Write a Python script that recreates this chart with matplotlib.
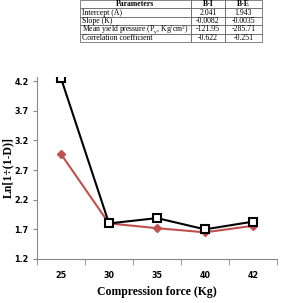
import numpy as np
import matplotlib.pyplot as plt

plt.rcParams["mathtext.fontset"] = "custom"
plt.rcParams["mathtext.rm"] = "Liberation Serif"
plt.rcParams["mathtext.it"] = "Liberation Serif:italic"

# ── Data ──
forces = ["25", "30", "35", "40", "42"]
b_i = [2.97, 1.80, 1.72, 1.65, 1.76]
b_e = [4.25, 1.80, 1.89, 1.70, 1.83]

yticks = [1.2, 1.7, 2.2, 2.7, 3.2, 3.7, 4.2]

tbl_header = ["Parameters", "B-I", "B-E"]
tbl_params = ["Intercept (A)", "Slope (K)",
              r"Mean yield pressure (P$_\mathrm{y}$, Kg/cm$^\mathrm{2}$)",
              "Correlation coefficient"]
tbl_bi = ["2.041", "-0.0082", "-121.95", "-0.622"]
tbl_be = ["1.943", "-0.0035", "-285.71", "-0.251"]

serif = "Liberation Serif"

fig = plt.figure(figsize=(2.93, 3.03), dpi=100)

# ── Chart ──
ax = fig.add_axes([37 / 293, 1 - 259 / 303, 240 / 293, 182 / 303])
x = np.arange(len(forces))
ax.plot(x, b_i, "-D", color="#c0504d", mfc="#c0504d", mec="#c0504d",
        markersize=4, linewidth=1.5)
ax.plot(x, b_e, "-s", color="black", mfc="white", mec="black",
        markersize=6, markeredgewidth=1.5, linewidth=1.5)

ax.set_xlim(-0.5, len(forces) - 0.5)
ax.set_ylim(1.2, 4.27)
ax.set_yticks(yticks)
ax.set_yticklabels([f"{v:.1f}" for v in yticks], fontsize=5.8, fontweight="bold")
ax.set_xticks(x)
ax.set_xticklabels(forces, fontsize=5.8, fontweight="bold")
ax.set_xticks(np.arange(len(forces) + 1) - 0.5, minor=True)
ax.tick_params(axis="x", which="major", length=0, pad=9)
ax.tick_params(axis="x", which="minor", length=4, color="#888888")
ax.tick_params(axis="y", length=3, color="#888888", pad=3)
for s in ["top", "right"]:
    ax.spines[s].set_visible(False)
for s in ["left", "bottom"]:
    ax.spines[s].set_color("#888888")
    ax.spines[s].set_linewidth(0.8)

ax.set_xlabel("Compression force (Kg)", family=serif, fontweight="bold", fontsize=8.5)
ax.set_ylabel("Ln[1÷(1-D)]", family=serif, fontweight="bold", fontsize=8.5)
ax.yaxis.set_label_coords(-0.094, 0.5)

# ── Table ──
tax = fig.add_axes([80 / 293, 1 - 42 / 303, 182 / 293, 42 / 303])
tax.axis("off")
cells = [tbl_header] + [[p, a, b] for p, a, b in zip(tbl_params, tbl_bi, tbl_be)]
t = tax.table(cellText=cells, colWidths=[111 / 182, 34 / 182, 37 / 182],
              loc="center", bbox=[0, 0, 1, 1])
t.auto_set_font_size(False)
for (r, c), cell in t.get_celld().items():
    cell.set_linewidth(0.5)
    cell.set_edgecolor("#555555")
    txt = cell.get_text()
    txt.set_fontsize(5.6)
    txt.set_family(serif)
    if r == 0:
        txt.set_fontweight("bold")
        cell._loc = "center"
    elif c == 0:
        cell._loc = "left"
        cell.PAD = 0.02
    else:
        cell._loc = "center"
    txt.set_horizontalalignment(cell._loc)

fig.savefig("out.png", dpi=100)
